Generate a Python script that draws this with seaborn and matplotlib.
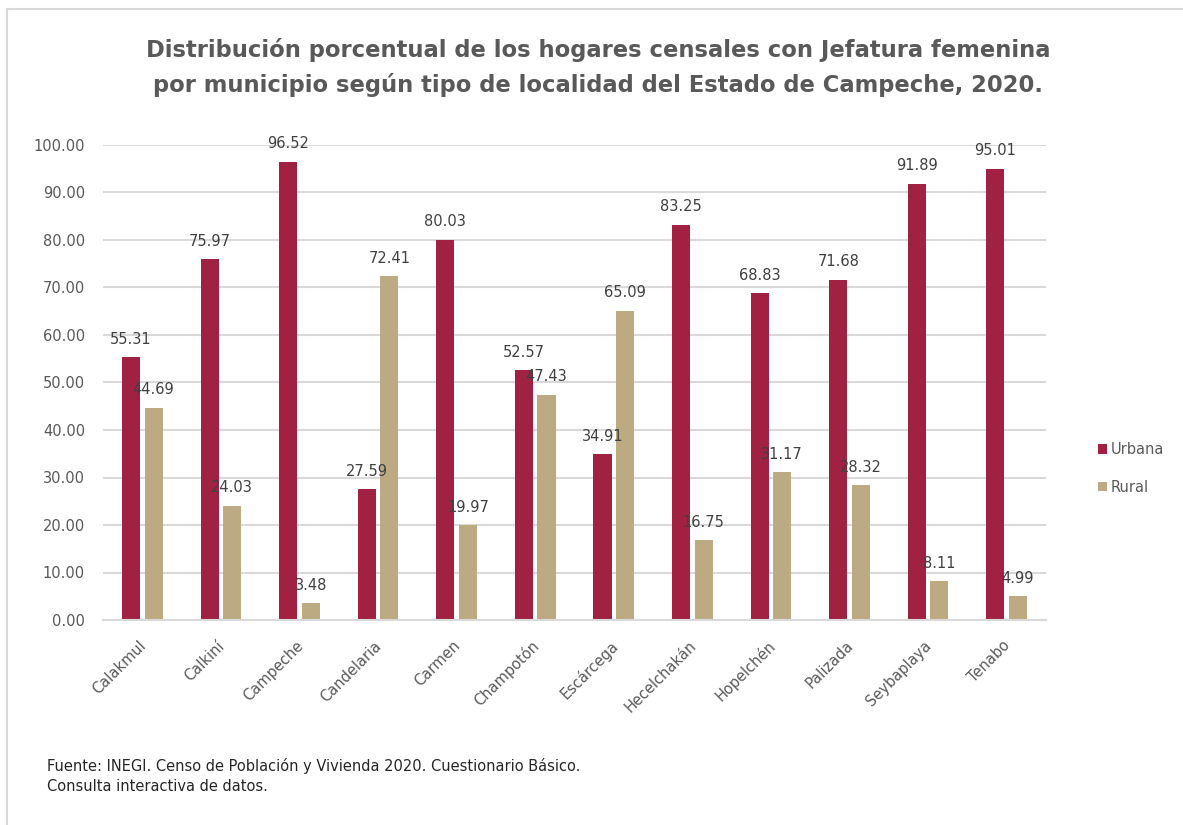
import matplotlib
matplotlib.use("Agg")
import matplotlib.pyplot as plt
from matplotlib.lines import Line2D
from matplotlib.transforms import ScaledTranslation
import seaborn as sns
import pandas as pd

municipios = ["Calakmul", "Calkiní", "Campeche", "Candelaria", "Carmen", "Champotón",
              "Escárcega", "Hecelchakán", "Hopelchén", "Palizada", "Seybaplaya", "Tenabo"]
urbana = [55.31, 75.97, 96.52, 27.59, 80.03, 52.57, 34.91, 83.25, 68.83, 71.68, 91.89, 95.01]
rural = [44.69, 24.03, 3.48, 72.41, 19.97, 47.43, 65.09, 16.75, 31.17, 28.32, 8.11, 4.99]
series = ["Urbana", "Rural"]
yticks = [0, 10, 20, 30, 40, 50, 60, 70, 80, 90, 100]

title_l1 = "Distribución porcentual de los hogares censales con Jefatura femenina"
title_l2 = "por municipio según tipo de localidad del Estado de Campeche, 2020."
footer = ("Fuente: INEGI. Censo de Población y Vivienda 2020. Cuestionario Básico.\n"
          "Consulta interactiva de datos.")

df = pd.DataFrame({
    "Municipio": municipios * 2,
    "Porcentaje": urbana + rural,
    "Tipo": [series[0]] * len(municipios) + [series[1]] * len(municipios),
})

sns.set_theme(style="white")
plt.rcParams["font.family"] = ["DejaVu Sans"]

W, H = 1183, 825
fig = plt.figure(figsize=(W / 100, H / 100), dpi=100)
ax = fig.add_axes([103 / W, 1 - 620 / H, (1046 - 103) / W, (620 - 145) / H])

colors = ["#A02142", "#BCAA82"]
sns.barplot(data=df, x="Municipio", y="Porcentaje", hue="Tipo", order=municipios,
            hue_order=series, palette=colors, saturation=1, width=0.575, gap=0.2,
            ax=ax, edgecolor="none", legend=True)

ax.set_ylim(0, 100)
ax.set_yticks(yticks)
ax.set_yticklabels([f"{v:.2f}" for v in yticks])
ax.set_xlim(-0.5, len(municipios) - 0.5)
ax.yaxis.grid(True, color="#D9D9D9", linewidth=1.5)
ax.set_axisbelow(True)
for s in ["left", "right", "top"]:
    ax.spines[s].set_visible(False)
ax.spines["bottom"].set_color("#D9D9D9")
ax.spines["bottom"].set_linewidth(1.5)
ax.set_xlabel("")
ax.set_ylabel("")
ax.tick_params(axis="y", length=0, pad=13, labelsize=10.5, labelcolor="#595959")
ax.tick_params(axis="x", length=0, pad=13, labelsize=10.5, labelcolor="#595959")
shift = ScaledTranslation(-4 / 100, 0, fig.dpi_scale_trans)
for lab in ax.get_xticklabels():
    lab.set_rotation(45)
    lab.set_ha("right")
    lab.set_va("top")
    lab.set_rotation_mode("anchor")
    lab.set_transform(lab.get_transform() + shift)

for cont in ax.containers:
    ax.bar_label(cont, fmt="%.2f", padding=7.5, fontsize=10.5, color="#404040")

handles, labels = ax.get_legend_handles_labels()
ax.legend(handles, labels, loc="center left", bbox_to_anchor=(1085 / W, 1 - 468.5 / H),
          bbox_transform=fig.transFigure, frameon=False, fontsize=10.5,
          handlelength=0.62, handleheight=0.62, handletextpad=0.25, labelspacing=1.55,
          labelcolor="#595959")

fig.text(598 / W, 1 - 57 / H, title_l1, ha="center", va="baseline", fontsize=16.3,
         fontweight="bold", color="#595959")
fig.text(598 / W, 1 - 92 / H, title_l2, ha="center", va="baseline", fontsize=16.3,
         fontweight="bold", color="#595959")
fig.text(47 / W, 1 - 776 / H, footer, ha="left", va="center", fontsize=10.5,
         color="#262626", linespacing=1.45)

fig.add_artist(Line2D([7 / W, 7 / W], [0, 1 - 9 / H], transform=fig.transFigure,
                      color="#D9D9D9", linewidth=1.5))
fig.add_artist(Line2D([7 / W, 1], [1 - 9 / H, 1 - 9 / H], transform=fig.transFigure,
                      color="#D9D9D9", linewidth=1.5))

fig.savefig("out.png", dpi=100, facecolor="white")
